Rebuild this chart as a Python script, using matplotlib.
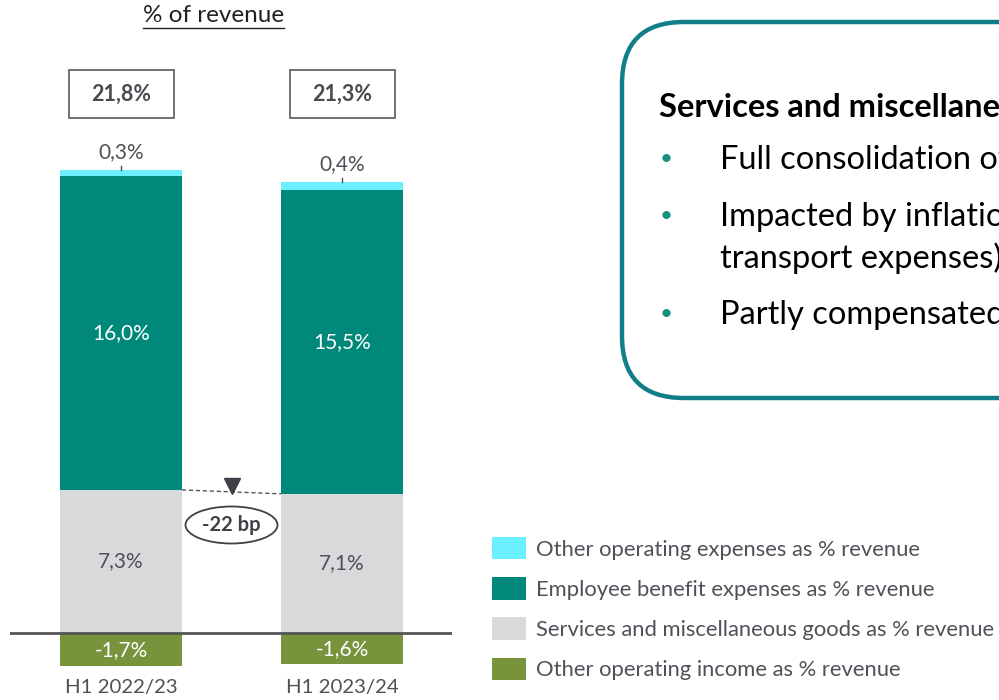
import matplotlib.pyplot as plt
from matplotlib.patches import Rectangle, Ellipse, FancyBboxPatch

plt.rcParams['font.family'] = ['Lato', 'DejaVu Sans']

periods = ['H1 2022/23', 'H1 2023/24']
services = [7.3, 7.1]
employee = [16.0, 15.5]
other_exp = [0.3, 0.4]
other_inc = [-1.7, -1.6]
totals = ['21,8%', '21,3%']
delta_label = '-22 bp'

series_names = ['Other operating expenses as % revenue',
                'Employee benefit expenses as % revenue',
                'Services and miscellaneous goods as % revenue',
                'Other operating income as % revenue']

c_cyan = '#6AF0FF'
c_teal = '#00887A'
c_gray = '#D9D9DB'
c_green = '#77933C'
c_text = '#505058'


def fmt(v):
    return f'{v:.1f}%'.replace('.', ',')


fig = plt.figure(figsize=(9.99, 7), dpi=100)

# chart axes, scaled so 1 % = 19.6 px
PX = 19.6
ax = fig.add_axes([10 / 999, 0, 442 / 999, 1])
ax.set_ylim(-67 / PX, 633 / PX)
ax.set_xlim(-111 / 221, 1 + 110 / 221)
ax.axis('off')

x = [0, 1]
w = 122 / 221
b_srv = ax.bar(x, services, w, color=c_gray, zorder=2)
b_emp = ax.bar(x, employee, w, bottom=services, color=c_teal, zorder=2)
tops = [s + e for s, e in zip(services, employee)]
b_oth = ax.bar(x, other_exp, w, bottom=tops, color=c_cyan, zorder=2)
b_inc = ax.bar(x, other_inc, w, color=c_green, zorder=2)
ax.axhline(0, color='#555555', lw=2, zorder=3)

for i in range(2):
    ax.text(x[i], services[i] / 2, fmt(services[i]), ha='center', va='center',
            fontsize=15, color=c_text)
    ax.text(x[i], services[i] + employee[i] / 2, fmt(employee[i]), ha='center',
            va='center', fontsize=15, color='white')
    ax.text(x[i], other_inc[i] / 2, fmt(other_inc[i]), ha='center', va='center',
            fontsize=15, color='white')
    top = tops[i] + other_exp[i]
    ax.plot([x[i], x[i]], [top, top + 4 / PX], color=c_text, lw=1, zorder=3)
    ax.text(x[i], top + 18 / PX, fmt(other_exp[i]), ha='center', va='center',
            fontsize=15, color=c_text)
    # total box
    ax.add_patch(Rectangle((x[i] - 52 / 221, (633 - 118) / PX), 105 / 221, 48 / PX,
                           fill=False, ec='#666666', lw=1.3))
    ax.text(x[i], (633 - 94) / PX, totals[i], ha='center', va='center',
            fontsize=15.5, weight='bold', color='#4A4A50')
    ax.text(x[i], -55 / PX, periods[i], ha='center', va='center',
            fontsize=14.7, color=c_text)

# delta between the two bars
ax.plot([x[0] + w / 2, x[1] - w / 2], [services[0], services[1]],
        ls=(0, (3, 2)), color='#555555', lw=1)
ax.plot([0.5], [(633 - 486) / PX], marker='v', ms=11, color='#404048', zorder=4)
ax.add_patch(Ellipse((0.5, (633 - 525) / PX), 92 / 221, 37 / PX,
                     fill=False, ec='#404048', lw=1.3))
ax.text(0.5, (633 - 525) / PX, delta_label, ha='center', va='center',
        fontsize=14.5, weight='bold', color='#404048')

ax.text((213.5 - 121) / 221, (633 - 16) / PX, '% of revenue', ha='center',
        va='center', fontsize=17.5, color='#222222')
ax.plot([(143 - 121) / 221, (284 - 121) / 221], [(633 - 28) / PX] * 2,
        color='#222222', lw=1)

ax.legend([b_oth, b_emp, b_srv, b_inc], series_names, loc='upper left',
          bbox_to_anchor=(492 / 999, 1 - 537 / 700), bbox_transform=fig.transFigure,
          frameon=False, fontsize=15.8, handlelength=1.55, handleheight=1.2,
          handletextpad=0.45, labelspacing=0.8, labelcolor=c_text, borderpad=0,
          borderaxespad=0)

# commentary box on the right, in pixel coordinates
ov = fig.add_axes([0, 0, 1, 1], zorder=-1)
ov.set_xlim(0, 999)
ov.set_ylim(700, 0)
ov.axis('off')
ov.add_patch(FancyBboxPatch((622, 22), 500, 376,
                            boxstyle='round,pad=0,rounding_size=62',
                            fc='white', ec='#117E8A', lw=3.2))
ov.text(659, 108, 'Services and miscellaneous goods', fontsize=23.5, weight='bold',
        color='black', va='center')
bullets = [(160, 'Full consolidation of'),
           (217, 'Impacted by inflation'),
           (315, 'Partly compensated')]
for y, t in bullets:
    ov.text(666, y - 1, '\u2022', fontsize=16, color='#18907F', va='center',
            ha='center')
    ov.text(720, y, t, fontsize=23.5, color='black', va='center')
ov.text(720, 258, 'transport expenses)', fontsize=23.5, color='black', va='center')

fig.savefig('out.png', dpi=100)
